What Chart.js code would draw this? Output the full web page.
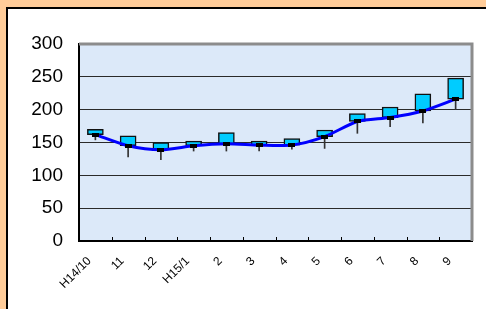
<!DOCTYPE html>
<html>
<head>
<meta charset="utf-8">
<script src="https://cdn.jsdelivr.net/npm/chart.js@4/dist/chart.umd.min.js"></script>
<style>
  html, body { margin: 0; padding: 0; }
  body { width: 486px; height: 309px; background: #ffcc99; position: relative; overflow: hidden; }
  #panel { position: absolute; left: 6px; top: 7px; width: 490px; height: 310px; background: #fff; border: 2px solid #000; }
  #c { position: absolute; left: 0; top: 0; }
</style>
</head>
<body>
<div id="panel"></div>
<canvas id="c" width="486" height="309"></canvas>
<script>
// 月
const labels = ["H14/10", "11", "12", "H15/1", "2", "3", "4", "5", "6", "7", "8", "9"];
// 箱の上端
const boxHigh = [170, 160, 150, 152, 165, 152, 156, 169, 194, 204, 224, 248];
// 折れ線（箱の下端）
const lineVals = [162, 145, 139, 145, 148, 146, 146, 159, 182, 188, 198, 216];
// ひげの下端
const lowVals = [154, 128, 124, 137, 137, 137, 140, 141, 164, 174, 180, 200];
const yTicks = [0, 50, 100, 150, 200, 250, 300];

// 黒い小さなマーカー
const marker = document.createElement("canvas");
marker.width = 7;
marker.height = 4;
marker.getContext("2d").fillRect(0, 0, 7, 4);

const plotDeco = {
  id: "plotDeco",
  beforeDraw(chart) {
    const { ctx, chartArea: a } = chart;
    ctx.save();
    ctx.fillStyle = "#dce9f9";
    ctx.fillRect(a.left, a.top, a.right - a.left, a.bottom - a.top);
    ctx.restore();
  },
  afterDraw(chart) {
    const { ctx, chartArea: a } = chart;
    ctx.save();
    // 上と右の灰色の枠
    ctx.strokeStyle = "#8c8c8c";
    ctx.lineWidth = 3;
    ctx.beginPath();
    ctx.moveTo(a.left, a.top);
    ctx.lineTo(a.right, a.top);
    ctx.lineTo(a.right, a.bottom);
    ctx.stroke();
    // x軸の目盛り（内向き）
    ctx.strokeStyle = "#000";
    ctx.lineWidth = 1;
    const step = (a.right - a.left) / labels.length;
    for (let i = 1; i < labels.length; i++) {
      const x = Math.round(a.left + i * step) + 0.5;
      ctx.beginPath();
      ctx.moveTo(x, a.bottom);
      ctx.lineTo(x, a.bottom - 4);
      ctx.stroke();
    }
    ctx.restore();
  },
};

new Chart(document.getElementById("c"), {
  type: "bar",
  data: {
    labels: labels,
    datasets: [
      {
        type: "line",
        data: lineVals,
        borderColor: "#0000ff",
        borderWidth: 3,
        tension: 0.25,
        pointStyle: marker,
        pointRadius: 3,
        order: 0,
      },
      {
        data: boxHigh.map((h, i) => [lineVals[i], h]),
        backgroundColor: "#00ccff",
        borderColor: "#111",
        borderWidth: 1.5,
        borderSkipped: false,
        barThickness: 16,
        grouped: false,
        order: 1,
      },
      {
        data: lowVals.map((l, i) => [l, lineVals[i]]),
        backgroundColor: "#333",
        barThickness: 1,
        grouped: false,
        order: 2,
      },
    ],
  },
  options: {
    responsive: false,
    devicePixelRatio: 1,
    animation: false,
    layout: { padding: { top: 44, right: 14, left: 0, bottom: 0 } },
    plugins: { legend: { display: false }, tooltip: { enabled: false } },
    scales: {
      x: {
        afterFit: (s) => { s.height = 68; },
        grid: { display: false },
        border: { color: "#000", width: 2 },
        ticks: {
          minRotation: 45,
          maxRotation: 45,
          autoSkip: false,
          padding: 5,
          labelOffset: -6,
          color: "#000",
          font: { family: "Liberation Sans, Arial", size: 12 },
        },
      },
      y: {
        min: 0,
        max: 300,
        afterFit: (s) => { s.width = 79; },
        afterBuildTicks: (s) => { s.ticks = yTicks.map((v) => ({ value: v })); },
        grid: { color: "#2a2a2a", lineWidth: 1, drawTicks: false },
        border: { color: "#000", width: 2 },
        ticks: {
          padding: 16,
          color: "#000",
          font: { family: "Liberation Sans, Arial", size: 19 },
        },
      },
    },
  },
  plugins: [plotDeco],
});
</script>
</body>
</html>
